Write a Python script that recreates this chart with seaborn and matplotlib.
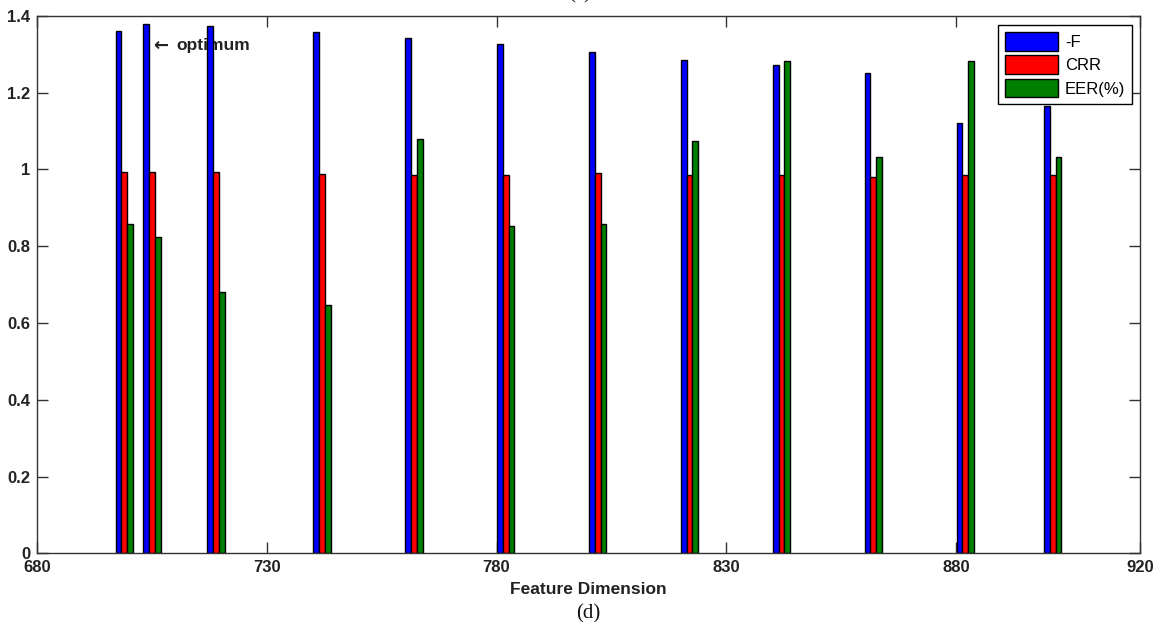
import numpy as np
import pandas as pd
import matplotlib
matplotlib.use("Agg")
import matplotlib.pyplot as plt
from matplotlib.ticker import FixedLocator, FixedFormatter
import seaborn as sns

# Feature dimensions evaluated and the three measures at each one
dims = [699, 705, 719, 742, 762, 782, 802, 822, 842, 862, 882, 901]
neg_f = [1.360, 1.379, 1.374, 1.357, 1.343, 1.327, 1.306, 1.285, 1.273, 1.250, 1.120, 1.166]
crr = [0.992, 0.992, 0.992, 0.989, 0.986, 0.986, 0.990, 0.986, 0.986, 0.981, 0.986, 0.986]
eer = [0.858, 0.823, 0.681, 0.647, 1.079, 0.852, 0.858, 1.075, 1.283, 1.033, 1.283, 1.033]

series_names = ["-F", "CRR", "EER(%)"]
series_colors = ["#0000ff", "#ff0000", "#007f00"]

x_ticks = [680, 730, 780, 830, 880, 920]
x_tick_labels = ["680", "730", "780", "830", "880", "920"]
y_ticks = [0, 0.2, 0.4, 0.6, 0.8, 1.0, 1.2, 1.4]
y_tick_labels = ["0", "0.2", "0.4", "0.6", "0.8", "1", "1.2", "1.4"]

df = pd.DataFrame({
    "dim": dims * 3,
    "value": neg_f + crr + eer,
    "measure": [series_names[0]] * len(dims) + [series_names[1]] * len(dims) + [series_names[2]] * len(dims),
})

sns.set_style("white")
plt.rcParams["font.family"] = ["Liberation Sans", "DejaVu Sans"]

fig = plt.figure(figsize=(11.62, 6.22), dpi=100)
ax = fig.add_axes([0.0318, 0.1104, 0.9492, 0.8643])

sns.barplot(
    data=df, x="dim", y="value", hue="measure",
    hue_order=series_names, palette=series_colors,
    native_scale=True, width=0.633, dodge=True, gap=0,
    saturation=1, errorbar=None,
    edgecolor="black", linewidth=1.0, ax=ax,
)

ax.set_xlim(680, 920)
ax.set_ylim(0, 1.4)
ax.xaxis.set_major_locator(FixedLocator(x_ticks))
ax.xaxis.set_major_formatter(FixedFormatter(x_tick_labels))
ax.yaxis.set_major_locator(FixedLocator(y_ticks))
ax.yaxis.set_major_formatter(FixedFormatter(y_tick_labels))

ax.tick_params(axis="both", which="both", direction="in", length=8, width=1,
               color="#333333", top=True, right=True, bottom=True, left=True,
               labelsize=12, pad=5)
for lab in ax.get_xticklabels() + ax.get_yticklabels():
    lab.set_fontweight("bold")
    lab.set_color("#222222")

for side in ["top", "bottom", "left", "right"]:
    ax.spines[side].set_visible(True)
    ax.spines[side].set_color("#333333")
    ax.spines[side].set_linewidth(1.0)

ax.set_xlabel("Feature Dimension", fontsize=12.5, fontweight="bold",
              color="#222222", labelpad=5)
ax.set_ylabel("")

# marker for the chosen dimension
ax.text(705.2, 1.322, "\u2190", fontsize=13, fontweight="bold",
        family=["DejaVu Sans"], va="center", ha="left", color="#222222", zorder=0.5)
ax.text(710.3, 1.322, "optimum", fontsize=12.5, fontweight="bold",
        va="center", ha="left", color="#222222", zorder=0.5)

handles, labels = ax.get_legend_handles_labels()
leg = ax.legend(handles, labels, loc="upper right",
                bbox_to_anchor=(0.993, 0.983), borderaxespad=0,
                fontsize=12, frameon=True, fancybox=False, shadow=False,
                handlelength=3.2, handleheight=1.35, labelspacing=0.28,
                handletextpad=0.4, borderpad=0.42)
leg.get_frame().set_edgecolor("black")
leg.get_frame().set_linewidth(1.0)
leg.get_frame().set_alpha(1)
for t in leg.get_texts():
    t.set_color("black")

# panel captions
fig.text(0.5065, 0.0135, "(d)", ha="center", va="center",
         fontsize=15, family=["Liberation Serif", "DejaVu Serif"], color="#111111")
fig.text(0.499, 1.0 + 2 / 622, "(c)", ha="center", va="baseline",
         fontsize=15, family=["Liberation Serif", "DejaVu Serif"], color="#111111")

fig.savefig("out.png", dpi=100, facecolor="white")
